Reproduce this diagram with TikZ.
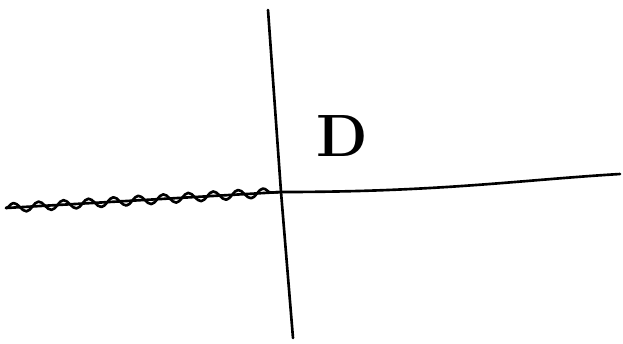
\documentclass[tikz,border=0pt]{standalone}
\usetikzlibrary{decorations.pathmorphing}
\tikzset{axis/.style = {draw, line width = 1.5pt, line cap = round, line join = round}}
\tikzset{cut/.style = {axis, decorate, decoration = {snake, amplitude = 0.09cm, segment length = 0.5cm}}}
\tikzset{region/.style = {font = \fontsize{34}{36}\selectfont\bfseries, inner sep = 0pt}}

\begin{document}
\begin{tikzpicture}[x = 0.02cm, y = -0.02cm]
	\useasboundingbox (0, 0) rectangle (623, 343);

	\coordinate (o) at (281, 192);
	\coordinate (top) at (268, 10);
	\coordinate (bot) at (293, 338);
	\coordinate (left) at (6, 208);
	\coordinate (right) at (620, 174);
	\node[region] (d) at (342, 136) {D};

	\draw[axis] (top) -- (o) -- (bot);
	\draw[axis] (o) .. controls (440, 192) and (520, 180) .. (right);
	\draw[axis] (left) -- (o);
	\draw[cut] (left) -- (o);
\end{tikzpicture}
\end{document}
